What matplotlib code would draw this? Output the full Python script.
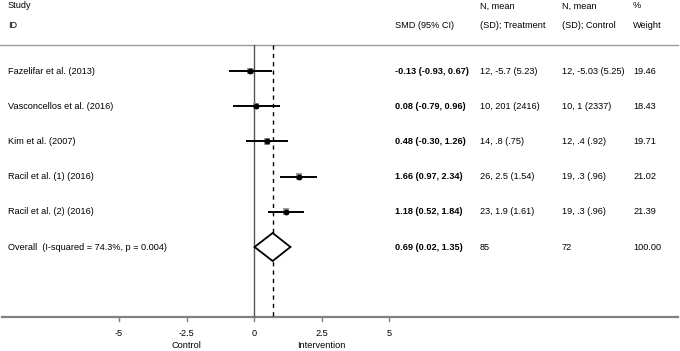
import matplotlib
matplotlib.use("Agg")
import matplotlib.pyplot as plt
from matplotlib.transforms import blended_transform_factory
from matplotlib.patches import Polygon, Rectangle

studies = ["Fazelifar et al. (2013)", "Vasconcellos et al. (2016)", "Kim et al. (2007)",
           "Racil et al. (1) (2016)", "Racil et al. (2) (2016)"]
smd = [-0.13, 0.08, 0.48, 1.66, 1.18]
lo = [-0.93, -0.79, -0.30, 0.97, 0.52]
hi = [0.67, 0.96, 1.26, 2.34, 1.84]
treat = ["12, -5.7 (5.23)", "10, 201 (2416)", "14, .8 (.75)", "26, 2.5 (1.54)", "23, 1.9 (1.61)"]
control = ["12, -5.03 (5.25)", "10, 1 (2337)", "12, .4 (.92)", "19, .3 (.96)", "19, .3 (.96)"]
weight = [19.46, 18.43, 19.71, 21.02, 21.39]
overall_label = "Overall  (I-squared = 74.3%, p = 0.004)"
overall = (0.69, 0.02, 1.35)
overall_n = ("85", "72", "100.00")
xticks = [-5, -2.5, 0, 2.5, 5]
xticklabels = ["-5", "-2.5", "0", "2.5", "5"]

W, H = 680, 351
fig = plt.figure(figsize=(W / 100, H / 100), dpi=100)
ax = fig.add_axes([0, 0, 1, 1])
ax.set_axis_off()
# pixel mapping: x=0 at 254px, 27px per unit
px0, ppu = 254, 27.0
ax.set_xlim(-px0 / ppu, (W - px0) / ppu)
# rows: row 0 at 71px, spacing 35.2px
ry0, rsp = 71, 35.2
ax.set_ylim((H - ry0) / rsp, -ry0 / rsp)

def ypix(p):
    return (p - ry0) / rsp

def xpix(p):
    return (p - px0) / ppu

fs = 6.6
font = "Liberation Sans"
tr = blended_transform_factory(ax.transAxes, ax.transData)

def txt(xp, y, s, **kw):
    ax.text(xp / W, y, s, transform=tr, fontsize=fs, family=font, va="center", ha="left", **kw)

# header
txt(8, ypix(6), "Study")
txt(8, ypix(25), "ID")
txt(395, ypix(25), "SMD (95% CI)")
txt(480, ypix(6), "N, mean")
txt(480, ypix(25), "(SD); Treatment")
txt(562, ypix(6), "N, mean")
txt(562, ypix(25), "(SD); Control")
txt(633, ypix(6), "%")
txt(633, ypix(25), "Weight")

# horizontal rules
ax.plot([xpix(0), xpix(678)], [ypix(45), ypix(45)], color="#9a9a9a", lw=1.0)
ax.plot([xpix(2), xpix(678)], [ypix(317), ypix(317)], color="#808080", lw=1.6)

# vertical lines
ax.plot([0, 0], [ypix(45), ypix(317)], color="#555555", lw=1.0)
ax.plot([overall[0], overall[0]], [ypix(45), ypix(317)], color="black", lw=1.0,
        linestyle=(0, (3, 3)))

for i, name in enumerate(studies):
    y = i
    txt(8, y, name)
    txt(395, y, f"{smd[i]:.2f} ({lo[i]:.2f}, {hi[i]:.2f})", fontweight="bold")
    txt(480, y, treat[i])
    txt(562, y, control[i])
    txt(633, y, f"{weight[i]:.2f}")
    ax.plot([lo[i], hi[i]], [y, y], color="black", lw=1.4, solid_capstyle="butt", zorder=3)
    s = 3.2 * (weight[i] / 20) ** 0.5
    ax.add_patch(Rectangle((smd[i] - s / ppu, y - s / rsp), 2 * s / ppu, 2 * s / rsp,
                           facecolor="#9a9a9a", edgecolor="none", zorder=2))
    ax.plot([smd[i]], [y], "o", color="black", ms=3.2, zorder=4)

yo = len(studies)
txt(8, yo, overall_label)
txt(395, yo, f"{overall[0]:.2f} ({overall[1]:.2f}, {overall[2]:.2f})", fontweight="bold")
txt(480, yo, overall_n[0])
txt(562, yo, overall_n[1])
txt(633, yo, overall_n[2])
hh = 14 / rsp
ax.add_patch(Polygon([(overall[1], yo), (overall[0], yo - hh), (overall[2], yo), (overall[0], yo + hh)],
                     closed=True, facecolor="white", edgecolor="black", lw=1.3, zorder=3))

# ticks
for t, lab in zip(xticks, xticklabels):
    ax.plot([t, t], [ypix(317), ypix(321)], color="#808080", lw=1.0)
    ax.text(t, ypix(333), lab, fontsize=fs, family=font, ha="center", va="center")
ax.text(-2.5, ypix(346), "Control", fontsize=fs, family=font, ha="center", va="center")
ax.text(2.5, ypix(346), "Intervention", fontsize=fs, family=font, ha="center", va="center")

fig.savefig("out.png", dpi=100)
